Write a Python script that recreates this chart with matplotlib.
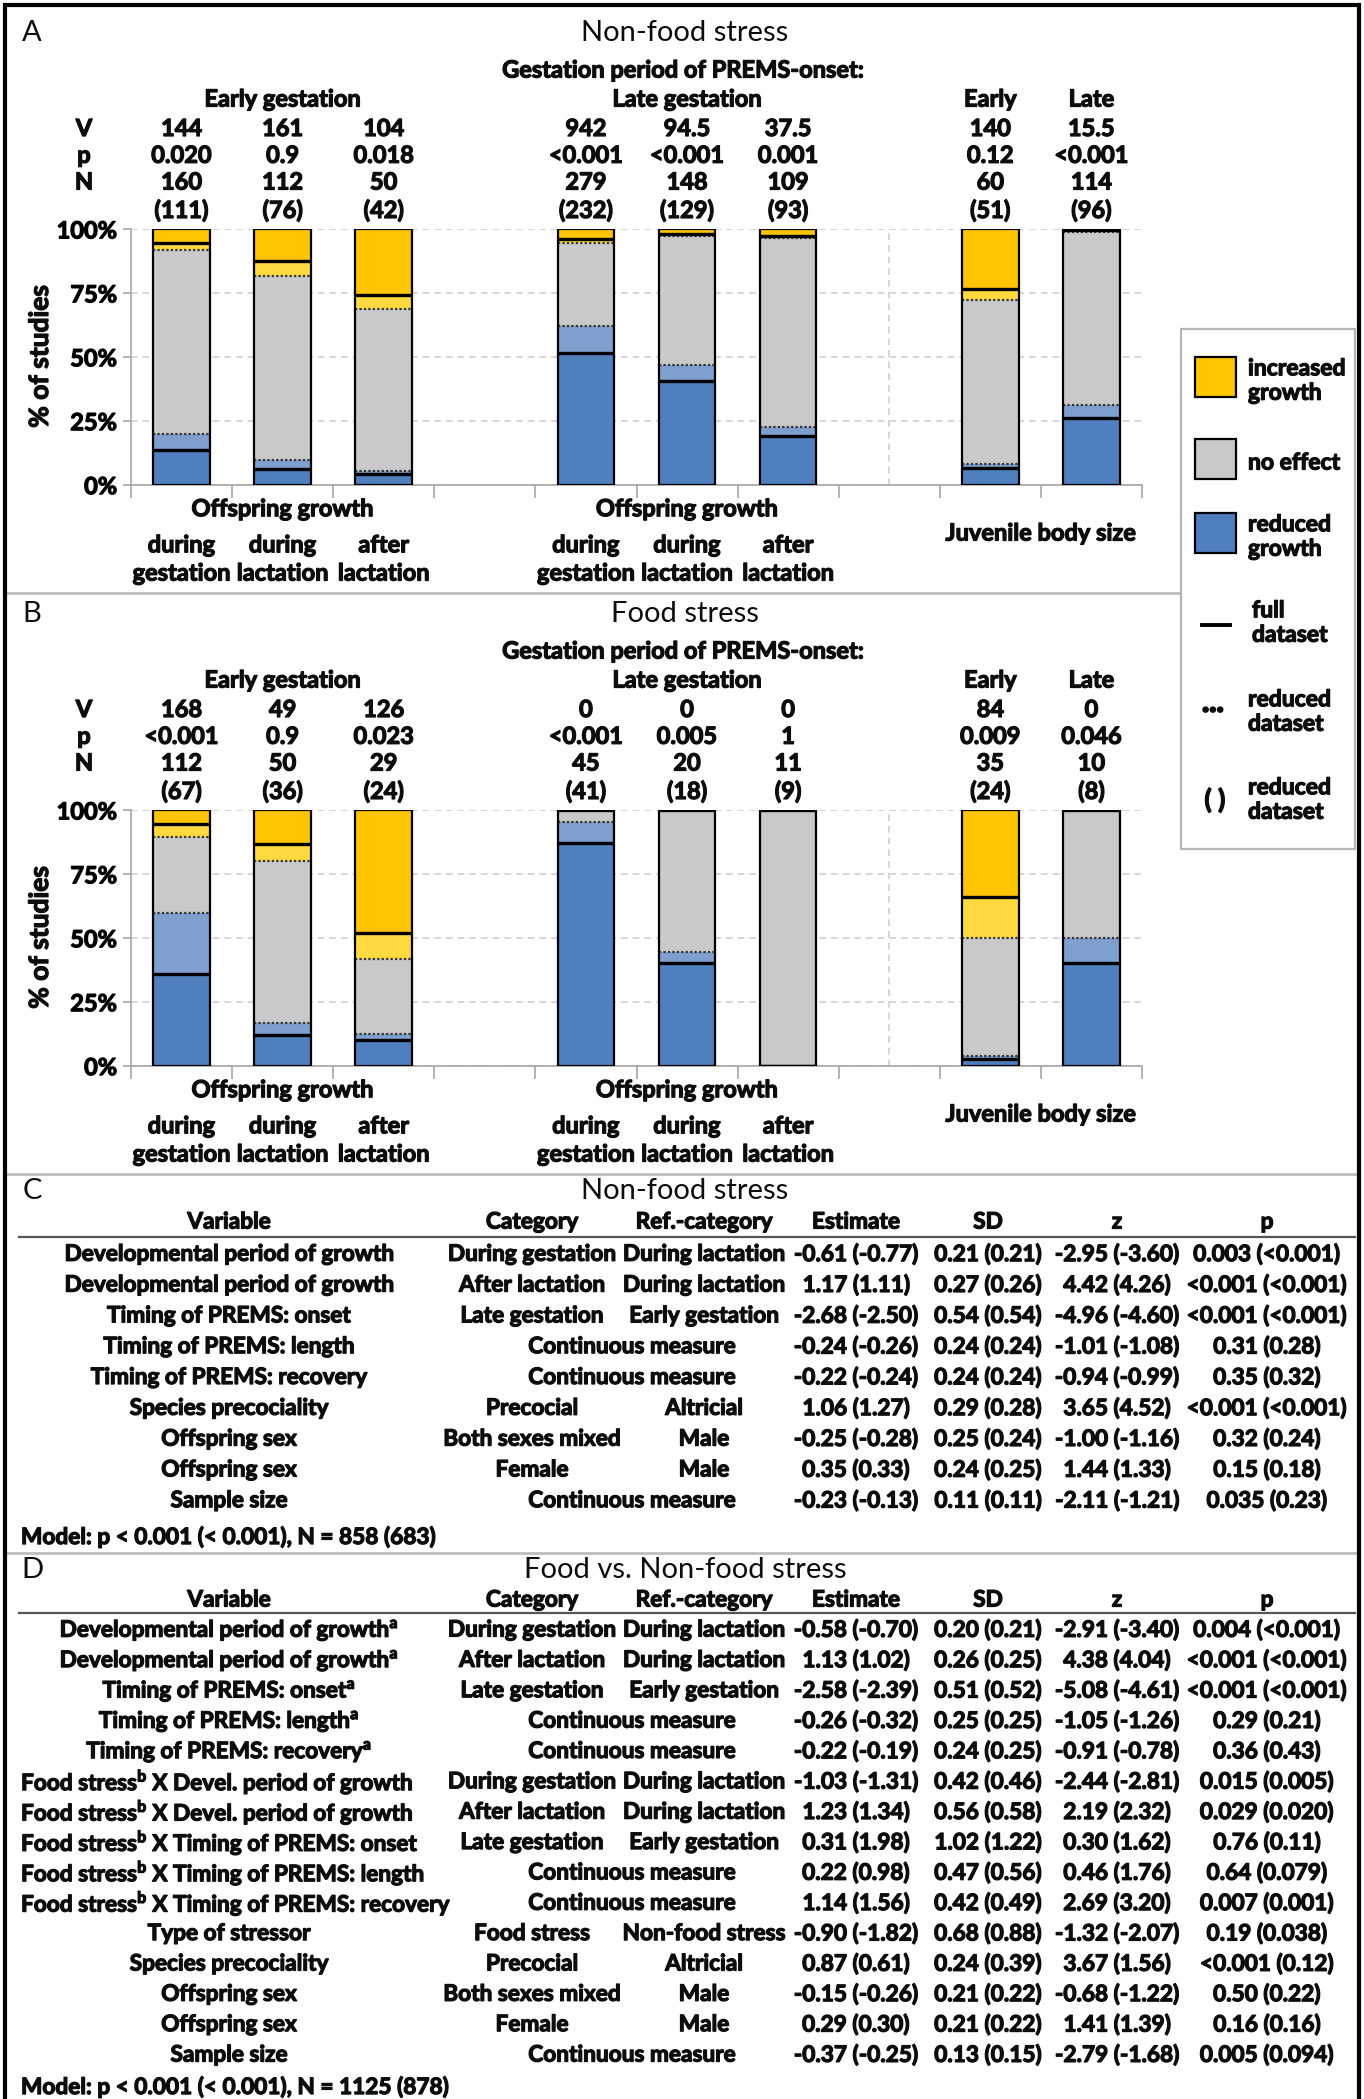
import matplotlib
matplotlib.use("Agg")
import numpy as np
import matplotlib.pyplot as plt
from matplotlib import transforms
from matplotlib import patheffects
from matplotlib.lines import Line2D
from matplotlib.patches import Rectangle

# ---- data: panel A (non-food stress), percentages of studies ----
slots = [0, 1, 2, 4, 5, 6, 8, 9]
a_V = ['144', '161', '104', '942', '94.5', '37.5', '140', '15.5']
a_p = ['0.020', '0.9', '0.018', '<0.001', '<0.001', '0.001', '0.12', '<0.001']
a_N = ['160', '112', '50', '279', '148', '109', '60', '114']
a_n = ['(111)', '(76)', '(42)', '(232)', '(129)', '(93)', '(51)', '(96)']
a_blue_full = [13.7, 6.2, 4.0, 51.5, 40.4, 19.1, 6.5, 26.1]
a_blue_red = [19.9, 9.6, 5.2, 62.0, 46.7, 22.7, 8.0, 31.2]
a_yel_red = [91.8, 81.6, 68.8, 94.5, 97.3, 96.5, 72.3, 98.9]
a_yel_full = [94.5, 87.6, 74.1, 96.0, 98.1, 97.2, 76.6, 99.5]

# ---- data: panel B (food stress) ----
b_V = ['168', '49', '126', '0', '0', '0', '84', '0']
b_p = ['<0.001', '0.9', '0.023', '<0.001', '0.005', '1', '0.009', '0.046']
b_N = ['112', '50', '29', '45', '20', '11', '35', '10']
b_n = ['(67)', '(36)', '(24)', '(41)', '(18)', '(9)', '(24)', '(8)']
b_blue_full = [35.7, 11.8, 10.1, 87.0, 40.2, 0.0, 2.5, 40.2]
b_blue_red = [59.5, 16.5, 12.2, 95.3, 44.5, 0.0, 3.6, 50.0]
b_yel_red = [89.4, 80.2, 41.5, 100, 100, 100, 50.0, 100]
b_yel_full = [94.3, 86.6, 51.7, 100, 100, 100, 66.0, 100]

bar_labels = ['during\ngestation', 'during\nlactation', 'after\nlactation']

# ---- data: table C ----
c_var = ['Developmental period of growth', 'Developmental period of growth',
         'Timing of PREMS: onset', 'Timing of PREMS: length', 'Timing of PREMS: recovery',
         'Species precociality', 'Offspring sex', 'Offspring sex', 'Sample size']
c_cat = ['During gestation', 'After lactation', 'Late gestation', 'Continuous measure',
         'Continuous measure', 'Precocial', 'Both sexes mixed', 'Female', 'Continuous measure']
c_ref = ['During lactation', 'During lactation', 'Early gestation', '', '', 'Altricial',
         'Male', 'Male', '']
c_est = ['-0.61 (-0.77)', '1.17 (1.11)', '-2.68 (-2.50)', '-0.24 (-0.26)', '-0.22 (-0.24)',
         '1.06 (1.27)', '-0.25 (-0.28)', '0.35 (0.33)', '-0.23 (-0.13)']
c_sd = ['0.21 (0.21)', '0.27 (0.26)', '0.54 (0.54)', '0.24 (0.24)', '0.24 (0.24)',
        '0.29 (0.28)', '0.25 (0.24)', '0.24 (0.25)', '0.11 (0.11)']
c_z = ['-2.95 (-3.60)', '4.42 (4.26)', '-4.96 (-4.60)', '-1.01 (-1.08)', '-0.94 (-0.99)',
       '3.65 (4.52)', '-1.00 (-1.16)', '1.44 (1.33)', '-2.11 (-1.21)']
c_p = ['0.003 (<0.001)', '<0.001 (<0.001)', '<0.001 (<0.001)', '0.31 (0.28)', '0.35 (0.32)',
       '<0.001 (<0.001)', '0.32 (0.24)', '0.15 (0.18)', '0.035 (0.23)']
c_model = 'Model: p < 0.001 (< 0.001), N = 858 (683)'

# ---- data: table D ----
sa = '$^\\mathregular{a}$'
sb = '$^\\mathregular{b}$'
d_var = ['Developmental period of growth' + sa, 'Developmental period of growth' + sa,
         'Timing of PREMS: onset' + sa, 'Timing of PREMS: length' + sa,
         'Timing of PREMS: recovery' + sa,
         'Food stress' + sb + ' X Devel. period of growth',
         'Food stress' + sb + ' X Devel. period of growth',
         'Food stress' + sb + ' X Timing of PREMS: onset',
         'Food stress' + sb + ' X Timing of PREMS: length',
         'Food stress' + sb + ' X Timing of PREMS: recovery',
         'Type of stressor', 'Species precociality', 'Offspring sex', 'Offspring sex',
         'Sample size']
d_cat = ['During gestation', 'After lactation', 'Late gestation', 'Continuous measure',
         'Continuous measure', 'During gestation', 'After lactation', 'Late gestation',
         'Continuous measure', 'Continuous measure', 'Food stress', 'Precocial',
         'Both sexes mixed', 'Female', 'Continuous measure']
d_ref = ['During lactation', 'During lactation', 'Early gestation', '', '',
         'During lactation', 'During lactation', 'Early gestation', '', '',
         'Non-food stress', 'Altricial', 'Male', 'Male', '']
d_est = ['-0.58 (-0.70)', '1.13 (1.02)', '-2.58 (-2.39)', '-0.26 (-0.32)', '-0.22 (-0.19)',
         '-1.03 (-1.31)', '1.23 (1.34)', '0.31 (1.98)', '0.22 (0.98)', '1.14 (1.56)',
         '-0.90 (-1.82)', '0.87 (0.61)', '-0.15 (-0.26)', '0.29 (0.30)', '-0.37 (-0.25)']
d_sd = ['0.20 (0.21)', '0.26 (0.25)', '0.51 (0.52)', '0.25 (0.25)', '0.24 (0.25)',
        '0.42 (0.46)', '0.56 (0.58)', '1.02 (1.22)', '0.47 (0.56)', '0.42 (0.49)',
        '0.68 (0.88)', '0.24 (0.39)', '0.21 (0.22)', '0.21 (0.22)', '0.13 (0.15)']
d_z = ['-2.91 (-3.40)', '4.38 (4.04)', '-5.08 (-4.61)', '-1.05 (-1.26)', '-0.91 (-0.78)',
       '-2.44 (-2.81)', '2.19 (2.32)', '0.30 (1.62)', '0.46 (1.76)', '2.69 (3.20)',
       '-1.32 (-2.07)', '3.67 (1.56)', '-0.68 (-1.22)', '1.41 (1.39)', '-2.79 (-1.68)']
d_p = ['0.004 (<0.001)', '<0.001 (<0.001)', '<0.001 (<0.001)', '0.29 (0.21)', '0.36 (0.43)',
       '0.015 (0.005)', '0.029 (0.020)', '0.76 (0.11)', '0.64 (0.079)', '0.007 (0.001)',
       '0.19 (0.038)', '<0.001 (0.12)', '0.50 (0.22)', '0.16 (0.16)', '0.005 (0.094)']
d_model = 'Model: p < 0.001 (< 0.001), N = 1125 (878)'

# ---- style ----
W, H = 1364, 2099
DBLUE, LBLUE, GRAY = '#4f7fbf', '#7f9fcf', '#c9c9c9'
DYEL, LYEL = '#ffc400', '#ffd940'
LINEG = '#bdbdbd'
INK = '#0d0d0d'
FS = 17         # panel text
FTAB = 16.3     # table text
FT = 21         # titles
# the original uses a heavy bold face; thicken the glyphs a little
HEAVY = [patheffects.withStroke(linewidth=0.9, foreground=INK)]

plt.rcParams['font.family'] = ['Lato', 'DejaVu Sans']
plt.rcParams['font.weight'] = 'bold'
plt.rcParams['text.color'] = INK

fig = plt.figure(figsize=(W / 100, H / 100), dpi=100)


def X(px):
    return px / W


def Y(py):
    return 1 - py / H


def txt(x, y, s, size=FS, **kw):
    kw.setdefault('ha', 'center')
    kw.setdefault('va', 'center')
    return fig.text(x, y, s, fontsize=size, path_effects=HEAVY, **kw)


def hline(y, x0, x1, color=LINEG, lw=2):
    fig.add_artist(Line2D([X(x0), X(x1)], [Y(y), Y(y)], color=color, lw=lw,
                          transform=fig.transFigure))


def bar_panel(top, letter, title, V, p, N, n, blue_full, blue_red, yel_red, yel_full):
    # top = pixel offset of the panel
    y0, y100 = top + 484.6, top + 228.9
    ax = fig.add_axes([X(131), Y(y0), X(1142) - X(131), (y0 - y100) / H])
    x = np.array(slots, dtype=float)
    bf, br = np.array(blue_full), np.array(blue_red)
    yr, yf = np.array(yel_red), np.array(yel_full)
    w = 0.56
    ax.bar(x, bf, w, color=DBLUE, zorder=2)
    ax.bar(x, br - bf, w, bottom=bf, color=LBLUE, zorder=2)
    ax.bar(x, yr - br, w, bottom=br, color=GRAY, zorder=2)
    ax.bar(x, yf - yr, w, bottom=yr, color=LYEL, zorder=2)
    ax.bar(x, 100 - yf, w, bottom=yf, color=DYEL, zorder=2)
    ax.hlines(br, x - w / 2, x + w / 2, colors='#333333', linestyles=(0, (1, 1)), lw=1.6, zorder=3)
    ax.hlines(yr, x - w / 2, x + w / 2, colors='#333333', linestyles=(0, (1, 1)), lw=1.6, zorder=3)
    ax.hlines(bf, x - w / 2, x + w / 2, colors='black', lw=2.4, zorder=4)
    ax.hlines(yf, x - w / 2, x + w / 2, colors='black', lw=2.4, zorder=4)
    ax.bar(x, 100, w, fill=False, edgecolor='black', lw=1.6, zorder=5)

    ax.set_xlim(-0.5, 9.5)
    ax.set_ylim(0, 100)
    ax.set_yticks([0, 25, 50, 75, 100])
    ax.set_yticklabels(['0%', '25%', '50%', '75%', '100%'], fontsize=FS, fontweight='bold')
    for lab in ax.get_yticklabels():
        lab.set_path_effects(HEAVY)
    ax.set_xticks(np.arange(-0.5, 10, 1))
    ax.set_xticklabels([])
    ax.tick_params(axis='x', length=9, color='#a6a6a6', width=1.2)
    ax.tick_params(axis='y', length=6, color='#a6a6a6', width=1.2, pad=4)
    ax.yaxis.grid(True, linestyle=(0, (4, 3)), color='#cfcfcf', lw=1.2)
    ax.set_axisbelow(True)
    ax.axvline(7, color='#cfcfcf', linestyle=(0, (4, 3)), lw=1.2, zorder=1)
    for s in ['top', 'right']:
        ax.spines[s].set_visible(False)
    for s in ['left', 'bottom']:
        ax.spines[s].set_color('#a6a6a6')
        ax.spines[s].set_linewidth(1.2)

    tr = transforms.blended_transform_factory(ax.transData, fig.transFigure)

    def coltext(xs, py, s):
        ax.text(xs, Y(top + py), s, transform=tr, fontsize=FS, ha='center', va='center',
                path_effects=HEAVY)

    fig.text(X(32), Y(top + 33), letter, fontsize=FT, fontweight='normal', ha='center', va='center')
    fig.text(X(685), Y(top + 33), title, fontsize=FT, fontweight='normal', ha='center', va='center')
    txt(X(683), Y(top + 70), 'Gestation period of PREMS-onset:')
    for xs, lab in [(1, 'Early gestation'), (5, 'Late gestation'), (8, 'Early'), (9, 'Late')]:
        coltext(xs, 99, lab)
    rows = [('V', V, 128.5), ('p', p, 155.3), ('N', N, 182), ('', n, 210.2)]
    for name, vals, yy in rows:
        if name:
            txt(X(84), Y(top + yy), name)
        for xs, v in zip(slots, vals):
            coltext(xs, yy, v)
    for xs in [1, 5]:
        coltext(xs, 508.7, 'Offspring growth')
    for xs, lab in zip(slots[:6], bar_labels * 2):
        l1, l2 = lab.split('\n')
        coltext(xs, 544.8, l1)
        coltext(xs, 573, l2)
    coltext(8.5, 533, 'Juvenile body size')
    txt(X(40), Y(top + 356.7), '% of studies', size=FS + 2, rotation=90)
    return ax


bar_panel(0, 'A', 'Non-food stress', a_V, a_p, a_N, a_n,
          a_blue_full, a_blue_red, a_yel_red, a_yel_full)
bar_panel(581, 'B', 'Food stress', b_V, b_p, b_N, b_n,
          b_blue_full, b_blue_red, b_yel_red, b_yel_full)

# ---- legend ----
fig.add_artist(Rectangle((X(1181), Y(849)), X(1355) - X(1181), (849 - 329) / H,
                         facecolor='white', edgecolor='#b5b5b5', lw=1.6,
                         transform=fig.transFigure, zorder=5))
for col, yc, lab in [(DYEL, 377, 'increased\ngrowth'), (GRAY, 459, 'no effect'),
                     (DBLUE, 533, 'reduced\ngrowth')]:
    fig.add_artist(Rectangle((X(1195), Y(yc + 20)), 41 / W, 40 / H, facecolor=col,
                             edgecolor='black', lw=1.6, transform=fig.transFigure, zorder=6))
    txt(X(1248), Y(yc + 4), lab, size=FS - 0.5, ha='left', linespacing=1.2, zorder=7)
fig.add_artist(Line2D([X(1202), X(1230)], [Y(625), Y(625)], color='black', lw=2.8,
                      transform=fig.transFigure, zorder=7))
txt(X(1252), Y(623), 'full\ndataset', size=FS - 0.5, ha='left', linespacing=1.2, zorder=7)
txt(X(1213), Y(703), '...', size=FS + 5, fontweight='heavy', zorder=7)
txt(X(1248), Y(712), 'reduced\ndataset', size=FS - 0.5, ha='left', linespacing=1.2, zorder=7)
txt(X(1215), Y(800), '( )', size=FS + 2, zorder=7)
txt(X(1248), Y(800), 'reduced\ndataset', size=FS - 0.5, ha='left', linespacing=1.2, zorder=7)

# ---- tables ----
col_x = {'var': 229, 'cat': 532, 'ref': 704, 'cont': 632, 'est': 856, 'sd': 988, 'z': 1117, 'p': 1267}


def table(top, letter, title, head_y, line_y, row0, dy, var, cat, ref, est, sd, z, p,
          model, model_y, left_rows=()):
    fig.text(X(32), Y(top), letter, fontsize=FT, fontweight='normal', ha='center', va='center')
    fig.text(X(685), Y(top), title, fontsize=FT, fontweight='normal', ha='center', va='center')
    heads = [('var', 'Variable'), ('cat', 'Category'), ('ref', 'Ref.-category'),
             ('est', 'Estimate'), ('sd', 'SD'), ('z', 'z'), ('p', 'p')]
    for key, lab in heads:
        txt(X(col_x[key]), Y(head_y), lab, size=FTAB)
    hline(line_y, 19, 1355, color='#555555', lw=1.6)
    for i in range(len(var)):
        yy = Y(row0 + i * dy)
        if i in left_rows:
            txt(X(21), yy, var[i], size=FTAB, ha='left')
        else:
            txt(X(col_x['var']), yy, var[i], size=FTAB)
        if ref[i]:
            txt(X(col_x['cat']), yy, cat[i], size=FTAB)
            txt(X(col_x['ref']), yy, ref[i], size=FTAB)
        else:
            txt(X(col_x['cont']), yy, cat[i], size=FTAB)
        for key, vals in [('est', est), ('sd', sd), ('z', z), ('p', p)]:
            txt(X(col_x[key]), yy, vals[i], size=FTAB)
    txt(X(21), Y(model_y), model, size=FTAB, ha='left')


table(1191, 'C', 'Non-food stress', 1222, 1237, 1254.3, 30.8,
      c_var, c_cat, c_ref, c_est, c_sd, c_z, c_p, c_model, 1537)
table(1570, 'D', 'Food vs. Non-food stress', 1600, 1613, 1630, 30.36,
      d_var, d_cat, d_ref, d_est, d_sd, d_z, d_p, d_model, 2087,
      left_rows=(5, 6, 7, 8, 9))

# ---- frame and separators ----
hline(593, 5, 1181)
hline(1174, 5, 1359)
hline(1553, 5, 1359)
fig.add_artist(Rectangle((X(5), Y(2110)), X(1359) - X(5), 2105 / H, fill=False,
                         edgecolor='black', lw=3, transform=fig.transFigure, zorder=10))

fig.savefig('out.png', dpi=100)
